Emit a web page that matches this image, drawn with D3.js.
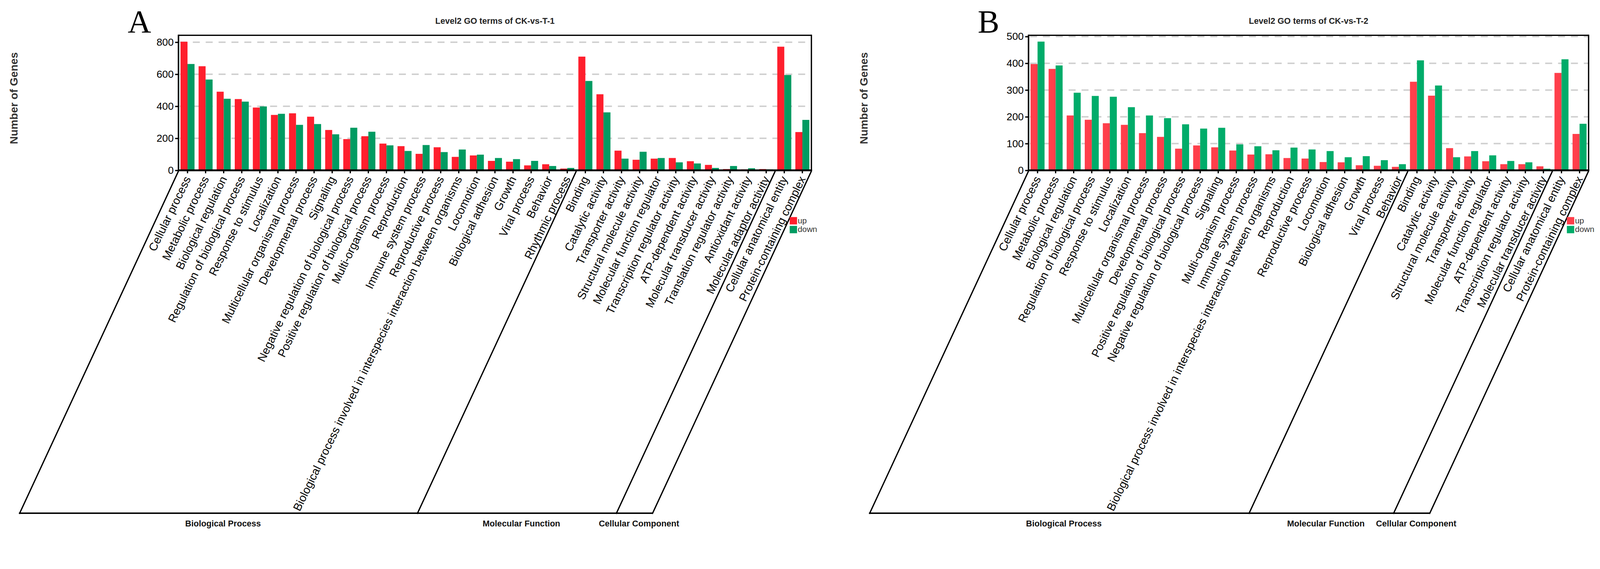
<!DOCTYPE html>
<html><head><meta charset="utf-8">
<script src="https://cdn.jsdelivr.net/npm/d3@7"></script>
<style>
html,body{margin:0;padding:0;background:#fff;overflow:hidden;width:100vw;height:100vh;}
svg{display:block;width:100vw;height:100vh;}
</style></head>
<body>
<svg id="chart" viewBox="0 0 4348 1457" preserveAspectRatio="xMidYMin meet"></svg>
<script>
// ---------------- DATA ----------------
const groupNames = ["Biological Process", "Molecular Function", "Cellular Component"];
const seriesNames = ["up", "down"];

const termsA = ["Cellular process","Metabolic process","Biological regulation","Regulation of biological process","Response to stimulus","Localization","Multicellular organismal process","Developmental process","Signaling","Negative regulation of biological process","Positive regulation of biological process","Multi-organism process","Reproduction","Immune system process","Reproductive process","Biological process involved in interspecies interaction between organisms","Locomotion","Biological adhesion","Growth","Viral process","Behavior","Rhythmic process",
"Binding","Catalytic activity","Transporter activity","Structural molecule activity","Molecular function regulator","Transcription regulator activity","ATP-dependent activity","Molecular transducer activity","Translation regulator activity","Antioxidant activity","Molecular adaptor activity",
"Cellular anatomical entity","Protein-containing complex"];
const upA   = [803,650,491,445,392,346,356,335,252,195,213,167,151,103,144,84,93,59,54,31,38,11, 710,475,123,66,73,77,57,34,8,6,8, 772,239];
const downA = [664,567,447,429,399,353,284,289,225,266,241,156,121,158,114,130,98,77,70,59,27,15, 558,362,73,116,77,50,43,15,27,13,6, 595,315];
const groupSizesA = [22, 11, 2];
const yTicksA = [0, 200, 400, 600, 800];
const titleA = "Level2 GO terms of CK-vs-T-1";

const termsB = ["Cellular process","Metabolic process","Biological regulation","Regulation of biological process","Response to stimulus","Localization","Multicellular organismal process","Developmental process","Positive regulation of biological process","Negative regulation of biological process","Signaling","Multi-organism process","Immune system process","Biological process involved in interspecies interaction between organisms","Reproduction","Reproductive process","Locomotion","Biological adhesion","Growth","Viral process","Behavior",
"Binding","Catalytic activity","Structural molecule activity","Transporter activity","Molecular function regulator","ATP-dependent activity","Transcription regulator activity","Molecular transducer activity",
"Cellular anatomical entity","Protein-containing complex"];
const upB   = [397,379,205,189,176,170,139,125,81,93,86,74,59,60,46,44,31,30,19,17,13, 331,279,83,52,34,23,23,15, 364,136];
const downB = [481,392,290,278,275,236,205,195,172,156,159,97,90,75,85,78,72,49,53,38,23, 411,317,49,72,56,35,30,6, 415,174];
const groupSizesB = [21, 8, 2];
const yTicksB = [0, 100, 200, 300, 400, 500];
const titleB = "Level2 GO terms of CK-vs-T-2";

// ---------------- DRAW ----------------
const svg = d3.select("#chart");
const FONT = '"Liberation Sans",Arial,Helvetica,sans-serif';
const SERIF = '"Liberation Serif","Times New Roman",Times,serif';
svg.attr("font-family", FONT);

function drawPanel(cfg) {
  const g = svg.append("g");
  const yTop = 96, yBase = 463;
  const x = d3.scaleBand().domain(cfg.terms).range([cfg.x0, cfg.x1]).paddingInner(0.225).paddingOuter(0.1125);
  const xs = d3.scaleBand().domain(seriesNames).range([0, x.bandwidth()]);
  const y = d3.scaleLinear().domain([0, cfg.yMax]).range([yBase, yTop]);
  const color = d3.scaleOrdinal().domain(seriesNames).range(cfg.colors);

  // panel letter
  g.append("text").attr("x", cfg.x0 - 138).attr("y", 88)
    .style("font-family", SERIF).attr("font-size", 88)
    .attr("fill", "#000").text(cfg.letter);
  // title
  g.append("text").attr("x", (cfg.x0 + cfg.x1) / 2).attr("y", 65).attr("text-anchor", "middle")
    .attr("font-size", 23).attr("font-weight", "bold").attr("fill", "#222").text(cfg.title);
  // y title
  g.append("text").attr("transform", `translate(${cfg.x0 - 448},267) rotate(-90)`)
    .attr("text-anchor", "middle").attr("dy", "0.35em").attr("font-size", 30).attr("font-weight", "bold")
    .attr("fill", "#333").text("Number of Genes");

  // gridlines
  g.append("g").selectAll("line").data(cfg.yTicks.filter(d => d > 0)).join("line")
    .attr("x1", cfg.x0 + 4).attr("x2", cfg.x1).attr("y1", d => y(d)).attr("y2", d => y(d))
    .attr("stroke", "#cfcfcf").attr("stroke-width", 4).attr("stroke-dasharray", "19,16");

  // bars
  const rows = cfg.terms.map((t, i) => ({term: t, up: cfg.up[i], down: cfg.down[i]}));
  g.append("g").selectAll("g").data(rows).join("g")
    .attr("transform", d => `translate(${x(d.term)},0)`)
    .selectAll("rect").data(d => seriesNames.map(k => ({key: k, value: d[k]}))).join("rect")
    .attr("x", d => xs(d.key)).attr("width", xs.bandwidth())
    .attr("y", d => y(d.value)).attr("height", d => yBase - y(d.value))
    .attr("fill", d => color(d.key));

  // y axis
  const ya = g.append("g").attr("transform", `translate(${cfg.x0},0)`)
    .call(d3.axisLeft(y).tickValues(cfg.yTicks).tickSize(9).tickPadding(4).tickFormat(d3.format("d")));
  ya.select(".domain").remove();
  ya.selectAll(".tick line").attr("stroke", "#000").attr("stroke-width", 3.5);
  ya.selectAll(".tick text").attr("font-family", FONT).attr("font-size", 28).attr("fill", "#000");

  // x axis
  const xa = g.append("g").attr("transform", `translate(0,${yBase})`)
    .call(d3.axisBottom(x).tickSize(8));
  xa.select(".domain").remove();
  xa.selectAll(".tick line").attr("stroke", "#000").attr("stroke-width", 3.5);
  xa.selectAll(".tick text").attr("font-family", FONT).attr("font-size", 31).attr("fill", "#000")
    .attr("text-anchor", "end").attr("y", null).attr("x", null).attr("dy", "0.35em")
    .attr("transform", "translate(0,18) rotate(-64)");

  // frame
  const fr = g.append("g").attr("stroke", "#000").attr("fill", "none");
  fr.append("line").attr("x1", cfg.x0).attr("x2", cfg.x1).attr("y1", yTop).attr("y2", yTop).attr("stroke-width", 3.5);
  fr.append("line").attr("x1", cfg.x1).attr("x2", cfg.x1).attr("y1", yTop - 1.7).attr("y2", yBase).attr("stroke-width", 3.5);
  fr.append("line").attr("x1", cfg.x0).attr("x2", cfg.x0).attr("y1", yTop - 1.7).attr("y2", yBase).attr("stroke-width", 4);
  fr.append("line").attr("x1", cfg.x0 - 2).attr("x2", cfg.x1 + 2).attr("y1", yBase).attr("y2", yBase).attr("stroke-width", 5);

  // category brackets
  const yBot = 1395, slope = 0.465;
  const bounds = [0];
  cfg.groupSizes.forEach(s => bounds.push(bounds[bounds.length - 1] + s));
  const bx = bounds.map(k => x.range()[0] + k * x.step());
  const bot = bx.map(v => v - slope * (yBot - (yBase + 2)));
  const br = g.append("g").attr("stroke", "#000").attr("fill", "none");
  br.selectAll("line.sl").data(bx).join("line").attr("class", "sl")
    .attr("x1", d => d).attr("y1", yBase + 2).attr("x2", (d, i) => bot[i]).attr("y2", yBot + 2)
    .attr("stroke-width", 3.5);
  br.append("line").attr("x1", bot[0] - 1).attr("x2", bot[bot.length - 1] + 1).attr("y1", yBot).attr("y2", yBot).attr("stroke-width", 4);
  g.append("g").selectAll("text").data(groupNames).join("text")
    .attr("x", (d, i) => (bot[i] + bot[i + 1]) / 2 + 13).attr("y", 1431).attr("text-anchor", "middle")
    .attr("font-size", 23).attr("font-weight", "bold").attr("fill", "#111").text(d => d);

  // legend
  const lg = g.append("g").attr("transform", `translate(${cfg.x1 - 59},590)`);
  lg.selectAll("rect").data(seriesNames).join("rect")
    .attr("x", 0).attr("y", (d, i) => i * 24).attr("width", 20).attr("height", 20).attr("fill", d => color(d));
  lg.selectAll("text").data(seriesNames).join("text")
    .attr("x", 22).attr("y", (d, i) => i * 24 + 17).attr("font-size", 22).attr("fill", "#333").text(d => d);
}

drawPanel({letter: "A", title: titleA, terms: termsA, up: upA, down: downA, groupSizes: groupSizesA,
  yTicks: yTicksA, yMax: 843, x0: 485, x1: 2205, colors: ["#FF1F2D", "#009B62"]});
drawPanel({letter: "B", title: titleB, terms: termsB, up: upB, down: downB, groupSizes: groupSizesB,
  yTicks: yTicksB, yMax: 504.5, x0: 2795, x1: 4317, colors: ["#FF3F4B", "#00AC6A"]});
</script>
</body></html>
